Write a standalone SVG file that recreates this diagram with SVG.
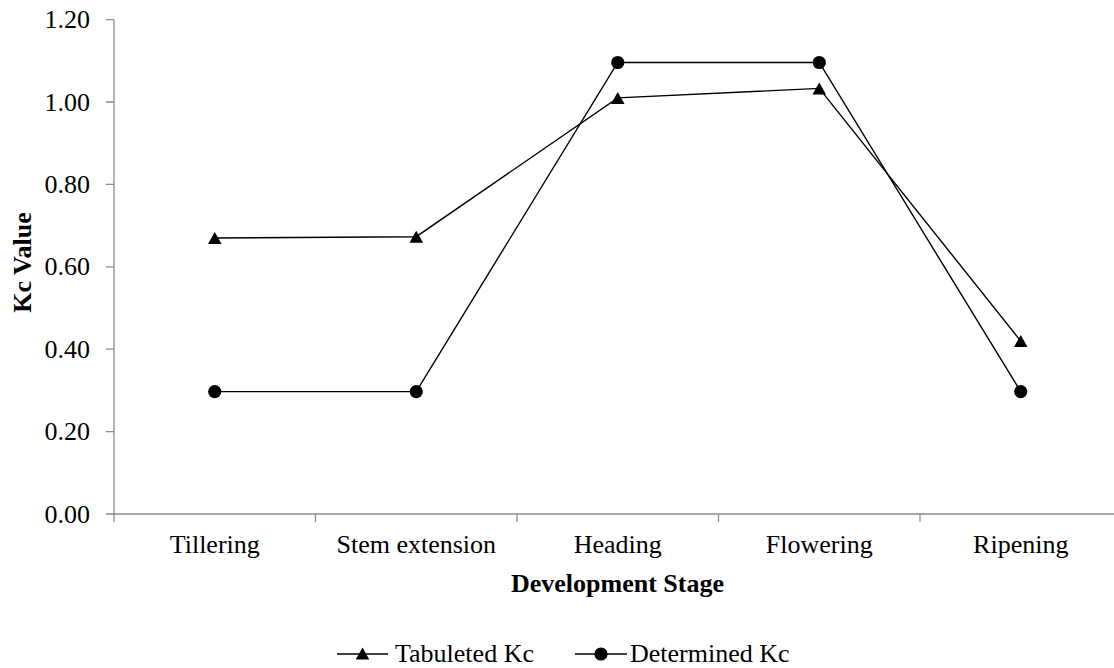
<svg xmlns="http://www.w3.org/2000/svg" width="1114" height="668" viewBox="0 0 1114 668">
<style>
.ax{stroke:#8c8c8c;stroke-width:1.3;fill:none}
.ser{stroke:#000;stroke-width:1.4;fill:none}
.t{font-family:"Liberation Serif","Times New Roman",serif;font-size:26px;fill:#000}
.b{font-weight:bold}
</style>
<defs>
<polygon id="tri" points="0,-6.5 6.8,5.5 -6.8,5.5" fill="#000"/>
<circle id="dot" r="6.6" fill="#000"/>
</defs>
<rect width="1114" height="668" fill="#fff"/>
<g id="axes">
<path class="ax" d="M114,19.6V514H1114"/>
<path class="ax" d="M106,19.6H114M106,102H114M106,184.4H114M106,266.8H114M106,349.2H114M106,431.6H114M106,514H114"/>
<path class="ax" d="M114,514V522M315.5,514V522M517,514V522M718.5,514V522M920,514V522"/>
</g>
<g id="y-labels" class="t" text-anchor="end">
<text x="90" y="28.1">1.20</text>
<text x="90" y="110.5">1.00</text>
<text x="90" y="192.9">0.80</text>
<text x="90" y="275.3">0.60</text>
<text x="90" y="357.7">0.40</text>
<text x="90" y="440.1">0.20</text>
<text x="90" y="522.5">0.00</text>
</g>
<g id="x-labels" class="t" text-anchor="middle">
<text x="214.75" y="553">Tillering</text>
<text x="416.25" y="553">Stem extension</text>
<text x="617.75" y="553">Heading</text>
<text x="819.25" y="553">Flowering</text>
<text x="1020.75" y="553">Ripening</text>
</g>
<text id="x-title" class="t b" x="617.5" y="592" text-anchor="middle">Development Stage</text>
<text id="y-title" class="t b" transform="translate(31,262.5) rotate(-90)" text-anchor="middle">Kc Value</text>
<g id="connectors">
<polyline id="tab-line" class="ser" points="214.75,238 416.25,236.7 617.75,97.9 819.25,88.4 1020.75,341"/>
<polyline id="det-line" class="ser" points="214.75,391.6 416.25,391.6 617.75,62.5 819.25,62.5 1020.75,391.6"/>
</g>
<g id="tabulated-markers">
<use href="#tri" x="214.75" y="238.5"/>
<use href="#tri" x="416.25" y="237.2"/>
<use href="#tri" x="617.75" y="98.4"/>
<use href="#tri" x="819.25" y="88.9"/>
<use href="#tri" x="1020.75" y="341.5"/>
</g>
<g id="determined-markers">
<use href="#dot" x="214.75" y="391.6"/>
<use href="#dot" x="416.25" y="391.6"/>
<use href="#dot" x="617.75" y="62.5"/>
<use href="#dot" x="819.25" y="62.5"/>
<use href="#dot" x="1020.75" y="391.6"/>
</g>
<g id="legend">
<g id="legend-tabulated">
<path class="ser" d="M337,654H388"/>
<use href="#tri" x="362.5" y="654"/>
<text class="t" x="395" y="662">Tabuleted Kc</text>
</g>
<g id="legend-determined">
<path class="ser" d="M575,654H627"/>
<use href="#dot" x="601" y="654"/>
<text class="t" x="630" y="662">Determined Kc</text>
</g>
</g>
</svg>
